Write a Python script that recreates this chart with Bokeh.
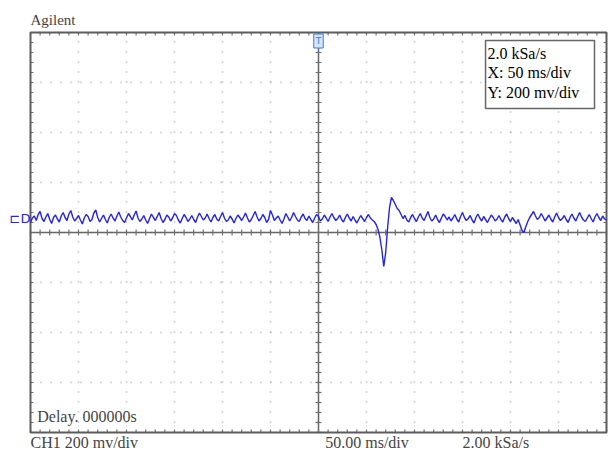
import math
from bokeh.plotting import figure
from bokeh.models import Range1d, Label, ColumnDataSource
from bokeh.embed import file_html
from bokeh.resources import INLINE

# ---- data (ms, mV), one sample every 2 ms ----
time_ms = list(range(-300, 301, 2))
ch1_mv = [
    40, 58, 66, 48, 72, 84, 56, 44, 62, 76, 52, 36, 60, 70, 54, 42, 66, 80, 60, 48,
    74, 88, 62, 46, 56, 68, 50, 34, 58, 72, 64, 44, 52, 78, 90, 60, 42, 56, 70, 52,
    38, 60, 74, 58, 46, 66, 82, 62, 48, 40, 58, 76, 64, 50, 70, 86, 58, 44, 54, 68,
    50, 36, 56, 74, 60, 48, 64, 80, 56, 40, 52, 70, 62, 46, 58, 76, 68, 50, 38, 56,
    72, 60, 44, 54, 68, 52, 40, 62, 78, 64, 50, 58, 74, 56, 42, 60, 72, 54, 46, 64,
    80, 58, 44, 50, 66, 54, 38, 56, 70, 60, 48, 62, 78, 58, 42, 52, 68, 84, 62, 46,
    56, 72, 60, 40, 52, 88, 70, 48, 58, 66, 50, 36, 54, 76, 62, 46, 60, 80, 64, 50,
    44, 62, 74, 56, 48, 66, 52, 40, 58, 72, 64, 46, 54, 70, 58, 44, 62, 76, 60, 48,
    56, 70, 52, 42, 60, 74, 58, 46, 64, 50, 38, 54, 68, 56, 44, 60, 72, 58, 50, 44,
    32, 12, -20, -70, -136, -80, 20, 100, 140, 128, 112, 96, 88, 72, 56, 68, 50, 42, 60, 72,
    56, 44, 62, 76, 58, 48, 66, 84, 60, 46, 54, 70, 52, 40, 58, 74, 64, 50, 62, 46,
    58, 72, 54, 42, 64, 80, 60, 48, 56, 68, 50, 38, 60, 74, 58, 46, 64, 52, 40, 56,
    70, 60, 46, 54, 68, 52, 42, 62, 74, 56, 44, 60, 48, 36, 52, 30, 8, 0, 24, 44,
    60, 72, 84, 66, 52, 60, 76, 62, 46, 58, 70, 54, 42, 62, 78, 60, 48, 56, 68, 52,
    40, 60, 74, 58, 46, 64, 80, 62, 50, 44, 58, 72, 56, 42, 62, 76, 60, 48, 66, 54,
    50,
]
x_major = list(range(-300, 301, 50))
x_minor = list(range(-300, 301, 10))
y_major = list(range(-800, 801, 200))
y_minor = list(range(-800, 801, 40))

info_lines = ["2.0 kSa/s", "X: 50 ms/div", "Y: 200 mv/div"]

FONT = "Liberation Serif"
FRAME = "#5c5c5c"
TRACE = "#2424e8"
GRIDC = "#a8a8a8"
TICKC = "#707070"

# scale: 48 px per 50 ms, 50 px per 200 mV ; frame 30..606 x 32..432
XPX = 50 / 48      # ms per px
YPX = 4            # mV per px
p = figure(width=609, height=452, output_backend="svg", toolbar_location=None,
           x_range=Range1d(-300 - 30 * XPX, 300 + 3 * XPX),
           y_range=Range1d(-800 - 20 * YPX, 800 + 32 * YPX),
           x_axis_location=None, y_axis_location=None,
           min_border=0)
p.outline_line_color = None
p.background_fill_color = "white"
p.border_fill_color = "white"
p.xgrid.visible = False
p.ygrid.visible = False

# dotted division grid
inner_x = x_major[1:-1]
inner_y = y_major[1:-1]
p.segment(x0=inner_x, y0=[-800] * len(inner_x), x1=inner_x, y1=[800] * len(inner_x),
          line_color=GRIDC, line_width=1.5, line_dash="1 9")
p.segment(x0=[-300] * len(inner_y), y0=inner_y, x1=[300] * len(inner_y), y1=inner_y,
          line_color=GRIDC, line_width=1.5, line_dash="1 9")

# centre cross-hair with ticks
p.segment(x0=[-300, 0], y0=[0, -800], x1=[300, 0], y1=[0, 800],
          line_color="#666666", line_width=1.5)
p.scatter(x=x_minor, y=[0] * len(x_minor), marker="dash", angle=math.pi / 2,
          size=6, line_color=TICKC, line_width=1.2)
p.scatter(x=[0] * len(y_minor), y=y_minor, marker="dash",
          size=6, line_color=TICKC, line_width=1.2)

# inward ticks on the frame edges
tx = 3 * XPX
ty = 3 * YPX
n = len(x_minor)
m = len(y_minor)
p.segment(x0=x_minor, y0=[-800] * n, x1=x_minor, y1=[-800 + ty] * n,
          line_color=TICKC, line_width=1.2)
p.segment(x0=x_minor, y0=[800] * n, x1=x_minor, y1=[800 - ty] * n,
          line_color=TICKC, line_width=1.2)
p.segment(x0=[-300] * m, y0=y_minor, x1=[-300 + tx] * m, y1=y_minor,
          line_color=TICKC, line_width=1.2)
p.segment(x0=[300] * m, y0=y_minor, x1=[300 - tx] * m, y1=y_minor,
          line_color=TICKC, line_width=1.2)

# frame
p.quad(left=[-300], right=[300], bottom=[-800], top=[800],
       fill_color=None, line_color=FRAME, line_width=2)

# trace
src = ColumnDataSource(dict(t=time_ms, v=ch1_mv))
p.line("t", "v", source=src, line_color=TRACE, line_width=1.4)

# info box
p.quad(left=[174], right=[287.5], bottom=[496], top=[768],
       fill_color="white", line_color="#666666", line_width=1.5)
for i, txt in enumerate(info_lines):
    p.add_layout(Label(x=176, y=716 - i * 77, text=txt, text_font=FONT,
                       text_font_size="16px", text_color="black",
                       text_baseline="alphabetic"))

# outer texts
p.add_layout(Label(x=-300, y=852, text="Agilent", text_font=FONT,
                   text_font_size="15px", text_baseline="alphabetic"))
p.add_layout(Label(x=-300, y=-840, text="CH1 200 mv/div", text_font=FONT,
                   text_font_size="16px", text_baseline="alphabetic"))
p.add_layout(Label(x=7, y=-840, text="50.00 ms/div", text_font=FONT,
                   text_font_size="16px", text_baseline="alphabetic"))
p.add_layout(Label(x=150, y=-840, text="2.00 kSa/s", text_font=FONT,
                   text_font_size="16px", text_baseline="alphabetic"))
p.add_layout(Label(x=-293, y=-736, text="Delay. 000000s", text_font=FONT,
                   text_font_size="16px", text_baseline="alphabetic"))

# channel and trigger markers
p.add_layout(Label(x=-311, y=56, text="⊏D", text_font="DejaVu Sans",
                   text_font_size="13px", text_color=TRACE,
                   text_align="center", text_baseline="middle"))
p.add_layout(Label(x=0, y=794, text="T", text_font="DejaVu Sans",
                   text_font_size="9px", text_color="#3a7be0",
                   text_align="center", text_baseline="top",
                   border_line_color="#3a7be0", background_fill_color="#d6e6ff",
                   padding=2))

open("out.html", "w").write(file_html(p, INLINE))
